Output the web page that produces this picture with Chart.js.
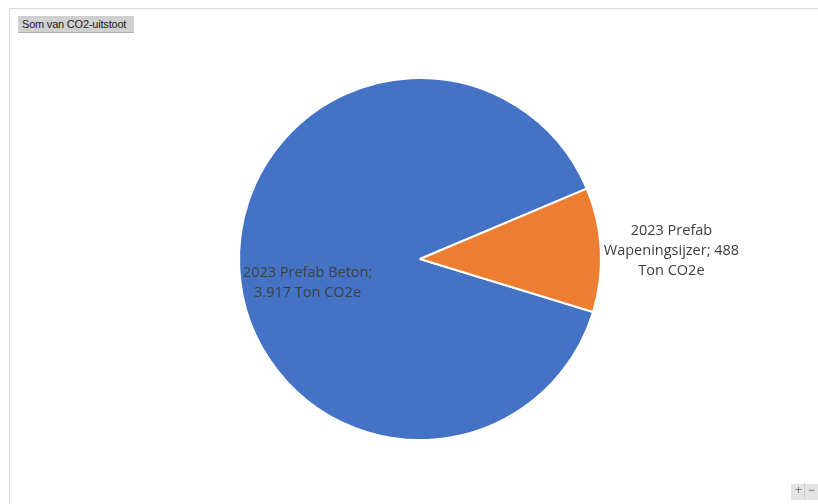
<!DOCTYPE html>
<html>
<head>
<meta charset="utf-8">
<script src="https://cdn.jsdelivr.net/npm/chart.js@4/dist/chart.umd.min.js"></script>
<style>
  html, body { margin: 0; padding: 0; background: #ffffff; }
  #wrap { position: relative; width: 818px; height: 504px; overflow: hidden; }
  #frame { position: absolute; left: 9px; top: 8px; width: 820px; height: 510px; border: 1px solid #d9d9d9; box-sizing: border-box; }
  #btn { position: absolute; left: 18px; top: 16px; width: 116px; height: 17px; background: #d0d0d0; border-bottom: 1px solid #b0b0b0; font-family: "Liberation Sans", Arial, sans-serif; font-size: 11px; color: #222; line-height: 17px; padding-left: 4px; box-sizing: border-box; white-space: nowrap; letter-spacing: -0.2px; }
  #zoomBtns { position: absolute; left: 791px; top: 484px; width: 30px; height: 16px; background: #e4e4e4; font-family: "Liberation Sans", Arial, sans-serif; font-size: 12px; color: #777; }
  #zoomBtns span { position: absolute; top: -1px; }
  #c { position: absolute; left: 0; top: 0; }
</style>
</head>
<body>
<div id="wrap">
  <div id="frame"></div>
  <canvas id="c" width="818" height="504"></canvas>
  <div id="btn">Som van CO2-uitstoot</div>
  <div id="zoomBtns"><span style="left:4px">+</span><span style="left:13px;border-left:1px solid #ccc;height:16px;"></span><span style="left:17px">−</span></div>
</div>
<script>
const categories = ["2023 Prefab Beton", "2023 Prefab Wapeningsijzer"];
const values = [3917, 488];
const displayValues = ["3.917", "488"];
const unit = "Ton CO2e";
const colors = ["#4472C4", "#ED7D31"];

// label lines per slice (Excel-style wrapping)
const labelLines = [
  [categories[0] + ";", displayValues[0] + " " + unit],
  ["2023 Prefab", "Wapeningsijzer; " + displayValues[1], unit]
];
// placement: [angle offset from slice mid (deg), radius fraction]
const labelPlacement = [[-9, 0.635], [1, 1.39]];

const labelPlugin = {
  id: 'sliceLabels',
  afterDatasetsDraw(chart) {
    const ctx = chart.ctx;
    const meta = chart.getDatasetMeta(0);
    ctx.save();
    ctx.font = '14.5px "Open Sans", "Lato", sans-serif';
    ctx.fillStyle = '#404040';
    ctx.textAlign = 'center';
    ctx.textBaseline = 'middle';
    meta.data.forEach((arc, i) => {
      const p = arc.getProps(['x','y','startAngle','endAngle','outerRadius'], true);
      const mid = (p.startAngle + p.endAngle) / 2 + labelPlacement[i][0] * Math.PI / 180;
      const r = p.outerRadius * labelPlacement[i][1];
      const cx = p.x + Math.cos(mid) * r;
      const cy = p.y + Math.sin(mid) * r;
      const lines = labelLines[i];
      const lh = 20;
      lines.forEach((t, k) => {
        ctx.fillText(t, cx, cy + (k - (lines.length - 1) / 2) * lh);
      });
    });
    ctx.restore();
  }
};

new Chart(document.getElementById('c'), {
  type: 'pie',
  data: {
    labels: categories,
    datasets: [{
      data: values,
      backgroundColor: colors,
      borderColor: '#ffffff',
      borderWidth: 2
    }]
  },
  options: {
    responsive: false,
    animation: false,
    rotation: 107,
    layout: { padding: { left: 238, right: 216, top: 77, bottom: 63 } },
    plugins: { legend: { display: false }, tooltip: { enabled: false } }
  },
  plugins: [labelPlugin]
});
</script>
</body>
</html>
